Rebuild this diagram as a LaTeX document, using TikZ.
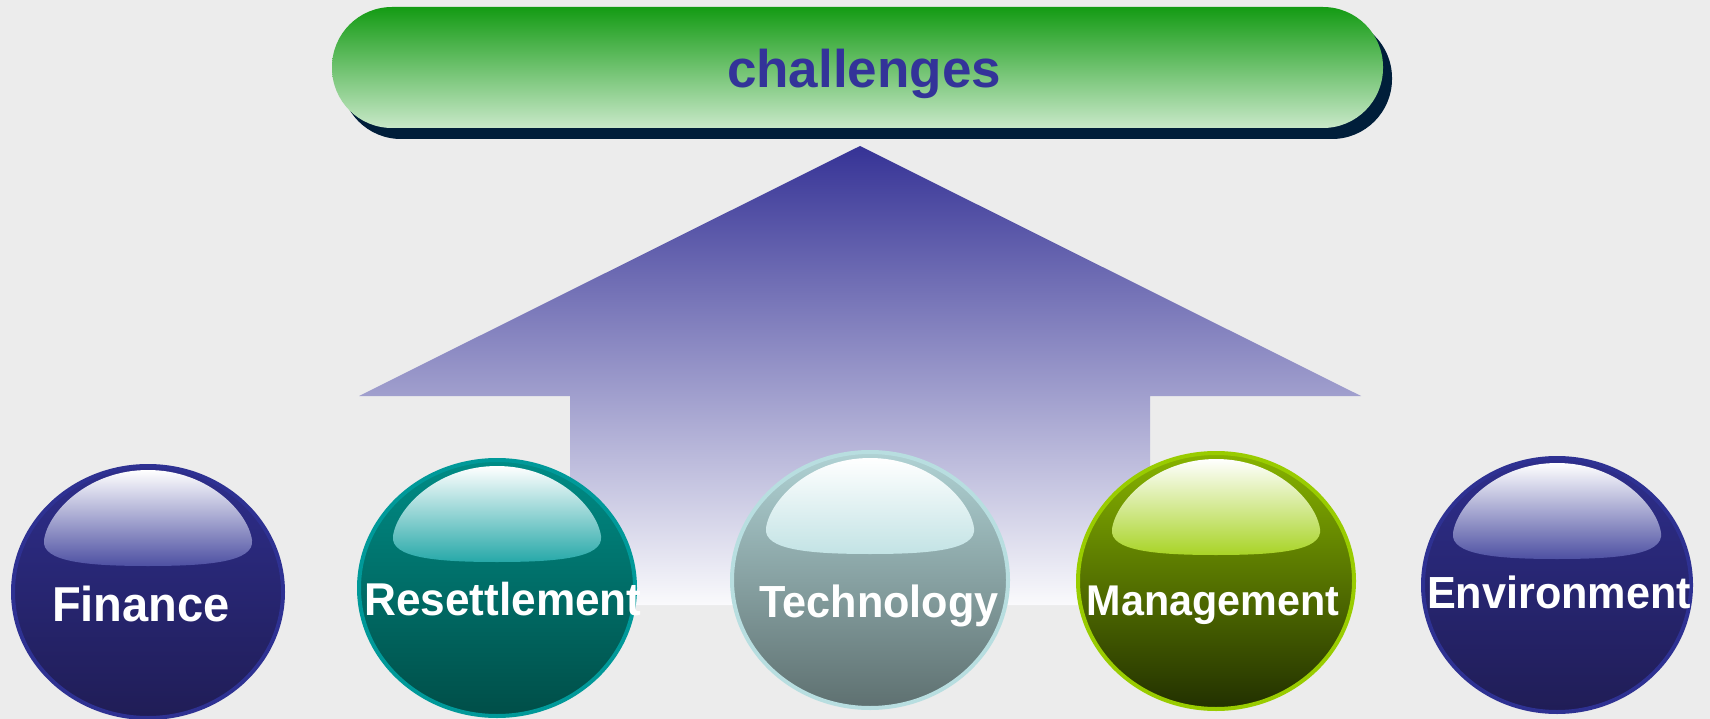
\documentclass[tikz,border=0pt]{standalone}
\usepackage{fontspec}
\setmainfont{Liberation Sans}
\usetikzlibrary{shapes.geometric,shadows}

\definecolor{paper}{RGB}{236,236,236}
\definecolor{arrTop}{RGB}{54,51,150}
\definecolor{arrMid}{RGB}{182,182,206}
\definecolor{arrLow}{RGB}{250,250,252}
\definecolor{bnTop}{RGB}{20,155,20}
\definecolor{bnMid}{RGB}{138,195,138}
\definecolor{bnLow}{RGB}{200,232,200}
\definecolor{bnShadow}{RGB}{0,30,58}
\definecolor{chalText}{RGB}{51,51,153}
% ball colours: ring, upper body, lower body
\definecolor{finRing}{RGB}{46,49,146}
\definecolor{finHi}{RGB}{46,46,140}
\definecolor{finLo}{RGB}{32,29,86}
\definecolor{resRing}{RGB}{0,153,153}
\definecolor{resHi}{RGB}{0,140,134}
\definecolor{resLo}{RGB}{0,78,72}
\definecolor{tecRing}{RGB}{184,222,224}
\definecolor{tecHi}{RGB}{176,210,212}
\definecolor{tecLo}{RGB}{94,112,112}
\definecolor{manRing}{RGB}{153,204,0}
\definecolor{manHi}{RGB}{136,180,0}
\definecolor{manLo}{RGB}{34,48,0}
\definecolor{envRing}{RGB}{46,49,146}
\definecolor{envHi}{RGB}{46,46,140}
\definecolor{envLo}{RGB}{32,29,86}

\tikzset{
  ball/.style={ellipse, draw=#1Ring, line width=4pt, top color=#1Hi, bottom color=#1Lo, inner sep=0pt},
  gloss/.style={top color=white, bottom color=#1Ring!85!white},
  lbl/.style={text=white, font=\bfseries, anchor=base, inner sep=0pt},
  banner/.style={rectangle, rounded corners=60pt, minimum width=1051pt, minimum height=121pt,
    top color=bnTop, middle color=bnMid, bottom color=bnLow,
    drop shadow={opacity=1, fill=bnShadow, shadow xshift=9pt, shadow yshift=-11pt}}
}

\begin{document}
\begin{tikzpicture}[x=1pt,y=-1pt]
\fill[paper] (0,0) rectangle (1710,719);
\useasboundingbox (0,0) rectangle (1710,719);

% big arrow behind the balls
\shade[top color=arrTop, middle color=arrMid, bottom color=arrLow]
  (860,146) -- (1361,396) -- (1150,396) -- (1150,605)
  -- (570,605) -- (570,396) -- (359,396) -- cycle;

% heading
\node[banner] (chal) at (857.5,67.5) {};
\node[text=chalText, font=\bfseries\fontsize{53}{60}\selectfont, anchor=base, inner sep=0pt] (chal-txt) at (864,88) {challenges};

% the five balls
\foreach \n/\cx/\cy/\rx/\ry/\tx/\ty/\fs/\txt in {
  fin/148/592/135/126/141/621/49/Finance,
  res/497/588/138/128/503/615/46/Resettlement,
  tec/870/580/138/128/879/617/45/Technology,
  man/1216/581/138/128/1213/615/43/Management,
  env/1557/585/134/127/1559/608/45/Environment}
{
  \node[ball=\n, minimum width=2*\rx pt, minimum height=2*\ry pt] (\n) at (\cx,\cy) {};
  \begin{scope}[shift={(\cx,\cy)}]
    \shade[gloss=\n] (-104,-52) .. controls (-100,-80) and (-60,-122) .. (0,-122)
      .. controls (60,-122) and (100,-80) .. (104,-52)
      .. controls (107,-30) and (60,-26) .. (0,-26)
      .. controls (-60,-26) and (-107,-30) .. (-104,-52) -- cycle;
  \end{scope}
  \node[lbl, font=\bfseries\fontsize{\fs}{\fs}\selectfont, xscale=0.96] (\n-txt) at (\tx,\ty) {\txt};
}
\end{tikzpicture}
\end{document}
